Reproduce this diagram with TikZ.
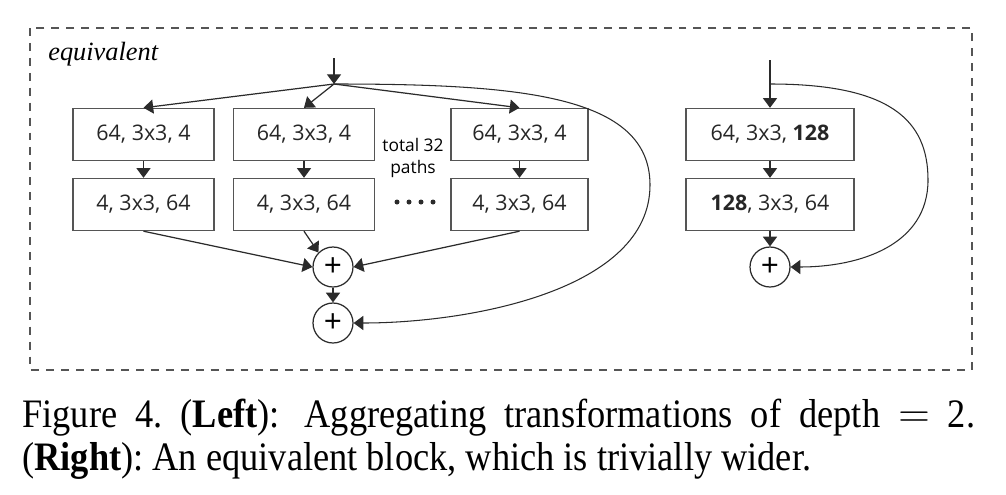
\documentclass[tikz,border=0pt]{standalone}
\usepackage{fontspec}
\setmainfont{Liberation Serif}
\setsansfont{Open Sans}
\newfontfamily\capfont[FakeStretch=0.9]{Liberation Serif}
\usetikzlibrary{arrows.meta}
\definecolor{LINE}{HTML}{2B2B2B}
\definecolor{EDGE}{HTML}{555555}

\begin{document}
\begin{tikzpicture}[x=0.02cm, y=-0.02cm,
  font=\sffamily,
  conv/.style={draw=EDGE, line width=0.8pt, minimum width=2.82cm, minimum height=1.04cm, inner sep=0pt, font=\sffamily\fontsize{12.2}{14}\selectfont, text=black!85},
  wide/.style={conv, minimum width=3.36cm},
  sum/.style={circle, draw=LINE, line width=0.7pt, minimum size=0.8cm, inner sep=0pt, font=\sffamily\fontsize{18}{18}\selectfont},
  arr/.style={draw=LINE, line width=0.7pt, -{Triangle[width=8pt,length=5.5pt]}},
  skip/.style={arr, line width=0.6pt},
  note/.style={font=\sffamily\fontsize{9.9}{13}\selectfont, align=center, inner sep=0pt},
]
\useasboundingbox (0,0) rectangle (1006,494);

\draw[EDGE, line width=0.6pt, dash pattern=on 4.5pt off 4pt] (30,28) rectangle (972,370);
\node[anchor=base west, inner sep=0pt, font=\itshape\fontsize{15}{15}\selectfont] (tag) at (48,60) {equivalent};

% left: 32 paths of depth 2
\coordinate (inL) at (334,58);
\coordinate (splitL) at (334,84);
\node[conv] (a1) at (143.5,134.5) {64, 3x3, 4};
\node[conv] (a2) at (304,134.5) {64, 3x3, 4};
\node[conv, minimum width=2.74cm] (a3) at (519.5,134.5) {64, 3x3, 4};
\node[conv] (b1) at (143.5,204.5) {4, 3x3, 64};
\node[conv] (b2) at (304,204.5) {4, 3x3, 64};
\node[conv, minimum width=2.74cm] (b3) at (519.5,204.5) {4, 3x3, 64};
\node[note] (paths) at (413,158) {total 32\\paths};
\foreach \x in {397,409,421,433} { \fill[LINE] (\x,202) circle[radius=2.5]; }
\node[sum] (s1) at (333,267) {+};
\node[sum] (s2) at (333,323) {+};

\draw[arr] (inL) -- (splitL);
\foreach \i in {1,2,3} {
  \draw[arr] (splitL) -- (a\i.north);
  \draw[arr] (a\i) -- (b\i);
}
\draw[arr] (b1.south) -- (s1.west);
\draw[arr] (b2.south) -- (s1.north west);
\draw[arr] (b3.south) -- (s1.east);
\draw[arr] (s1) -- (s2);
\draw[skip] (splitL) .. controls (520,84) and (650,95) .. (650,185)
  .. controls (650,290) and (470,323) .. (s2.east);

% right: one wider path
\coordinate (inR) at (770,60);
\coordinate (splitR) at (770,84);
\node[wide] (r1) at (770,134.5) {64, 3x3, \textbf{128}};
\node[wide] (r2) at (770,204.5) {\textbf{128}, 3x3, 64};
\node[sum] (sR) at (770,267) {+};
\draw[arr] (inR) -- (r1);
\draw[arr] (r1) -- (r2);
\draw[arr] (r2) -- (sR);
\draw[skip] (splitR) .. controls (890,84) and (928,120) .. (928,180)
  .. controls (928,245) and (860,267) .. (sR.east);

\node[anchor=north west, text width=19.06cm, align=justify, inner sep=0pt, font=\capfont\frenchspacing\fontsize{23}{24.5}\selectfont] (cap) at (22,399)
  {Figure 4. (\textbf{Left}):\, Aggregating transformations of depth $=$ 2.\linebreak
   (\textbf{Right}): An equivalent block, which is trivially wider.};
\end{tikzpicture}
\end{document}
